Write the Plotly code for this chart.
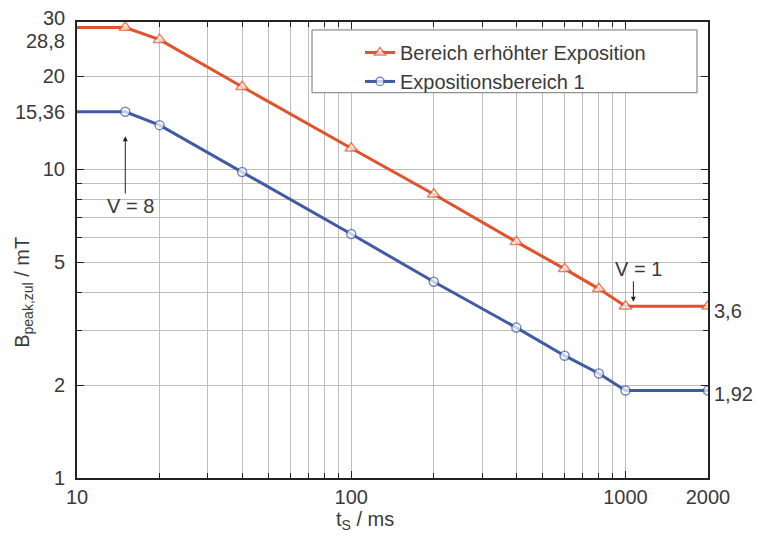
import math
import plotly.graph_objects as go

t_red = [10, 15, 20, 40, 100, 200, 400, 600, 800, 1000, 2000]
b_red = [28.8, 28.8, 26.3, 18.5, 11.7, 8.3, 5.82, 4.76, 4.10, 3.6, 3.6]
t_blue = [10, 15, 20, 40, 100, 200, 400, 600, 800, 1000, 2000]
b_blue = [15.36, 15.36, 13.9, 9.8, 6.17, 4.32, 3.07, 2.49, 2.18, 1.92, 1.92]
series_names = ["Bereich erhöhter Exposition", "Expositionsbereich 1"]

x_ticks = [10, 100, 1000, 2000]
x_minor = [20, 30, 40, 50, 60, 70, 80, 90, 200, 300, 400, 500, 600, 700, 800, 900]
y_ticks = [1, 2, 5, 10, 20]
y_minor = [2, 3, 4, 5, 6, 7, 8, 9, 10, 20]

RED = "#e2522b"
BLUE = "#3f5ba6"
FONT = "Liberation Sans, Arial, sans-serif"
TXT = "#3a3a3a"
FS = 20

# page offset (body margin) compensation
W, H = 762, 536
OFF = 8
PL, PR, PT, PB = 77, 708, 20, 478   # plot area in page pixels

fig = go.Figure()
fig.add_trace(go.Scatter(
    x=t_red, y=b_red, name=series_names[0], mode="lines+markers",
    line=dict(color=RED, width=3),
    marker=dict(symbol="triangle-up", size=[0] + [11] * 10, color="white",
                line=dict(width=1.5, color=RED)),
))
fig.add_trace(go.Scatter(
    x=t_blue, y=b_blue, name=series_names[1], mode="lines+markers",
    line=dict(color=BLUE, width=3),
    marker=dict(symbol="circle", size=[0] + [9] * 10, color="white",
                line=dict(width=1.5, color=BLUE)),
))

L = math.log10
pw = PR - PL
ph = PB - PT
ann = []
# left-side special labels
for val, txt, yshift in [(30, "30", 4), (28.8, "28,8", -14), (15.36, "15,36", 0)]:
    ann.append(dict(x=0, xref="paper", y=L(val), yref="y", text=txt, showarrow=False,
                    xanchor="right", xshift=-10, yshift=yshift,
                    font=dict(size=FS, color=TXT, family=FONT)))
# right-side labels
for val, txt, ys in [(3.6, "3,6", -5), (1.92, "1,92", -3)]:
    ann.append(dict(x=1, xref="paper", y=L(val), yref="y", text=txt, showarrow=False,
                    xanchor="left", xshift=4, yshift=ys,
                    font=dict(size=FS, color=TXT, family=FONT)))
# V = 8 (text at tail, arrow up to head)
ann.append(dict(x=L(15), y=L(12.8), xref="x", yref="y", ax=L(15), ay=L(7.6),
                axref="x", ayref="y", text="&nbsp;&nbsp;V = 8", showarrow=True, arrowhead=2,
                arrowsize=1, arrowwidth=1, arrowcolor="#222",
                font=dict(size=FS, color=TXT, family=FONT)))
# V = 1 (text at tail, arrow down to head)
ann.append(dict(x=L(1069), y=L(3.72), xref="x", yref="y", ax=L(1069), ay=L(4.76),
                axref="x", ayref="y", text="&nbsp;&nbsp;V = 1", showarrow=True, arrowhead=2,
                arrowsize=1, arrowwidth=1, arrowcolor="#222",
                font=dict(size=FS, color=TXT, family=FONT)))
# axis titles
ann.append(dict(x=(365 - PL) / pw, xref="paper", y=0, yref="paper", yshift=-(520 - PB),
                text="t<sub>S</sub> / ms", showarrow=False, xanchor="center", yanchor="middle",
                font=dict(size=FS, color=TXT, family=FONT)))
ann.append(dict(x=0, xref="paper", xshift=-(PL - 24), y=(PB - 292) / ph, yref="paper",
                text="B<sub>peak,zul</sub> / mT", showarrow=False, textangle=-90,
                xanchor="center", yanchor="middle",
                font=dict(size=FS, color=TXT, family=FONT)))

# legend frame
shapes = [dict(type="rect", xref="paper", yref="paper",
               x0=(312 - PL) / pw, x1=(697 - PL) / pw,
               y0=(PB - 91) / ph, y1=(PB - 28) / ph,
               fillcolor="white", line=dict(color="#777", width=1), layer="above")]

fig.update_layout(
    width=W, height=H,
    margin=dict(l=PL - OFF, r=W - (PR - OFF), t=PT - OFF, b=H - (PB - OFF)),
    paper_bgcolor="white", plot_bgcolor="white",
    font=dict(family=FONT, size=FS, color=TXT),
    showlegend=True,
    legend=dict(x=(360 - PL) / pw, y=(PB - 31) / ph, xanchor="left", yanchor="top",
                bgcolor="rgba(0,0,0,0)", borderwidth=0,
                font=dict(size=FS, color=TXT, family=FONT),
                tracegroupgap=0),
    annotations=ann,
    shapes=shapes,
    xaxis=dict(
        type="log", range=[1, L(2000)],
        tickvals=x_ticks, ticktext=[str(v) for v in x_ticks],
        ticks="inside", ticklen=7, tickcolor="#222",
        showgrid=True, gridcolor="#bdbdbd", gridwidth=1,
        minor=dict(tickvals=x_minor, ticks="inside", ticklen=5, tickcolor="#222",
                   showgrid=True, gridcolor="#bdbdbd", gridwidth=1),
        showline=True, linecolor="#222", linewidth=2, mirror="ticks",
        zeroline=False,
        tickfont=dict(size=FS, color=TXT, family=FONT),
    ),
    yaxis=dict(
        type="log", range=[0, L(30)],
        tickvals=y_ticks, ticktext=[str(v) for v in y_ticks],
        ticks="inside", ticklen=7, tickcolor="#222",
        showgrid=False, ticklabelstandoff=6,
        minor=dict(tickvals=y_minor, ticks="inside", ticklen=5, tickcolor="#222",
                   showgrid=True, gridcolor="#bdbdbd", gridwidth=1),
        showline=True, linecolor="#222", linewidth=2, mirror="ticks",
        zeroline=False,
        tickfont=dict(size=FS, color=TXT, family=FONT),
    ),
)

fig.write_html("out.html")
